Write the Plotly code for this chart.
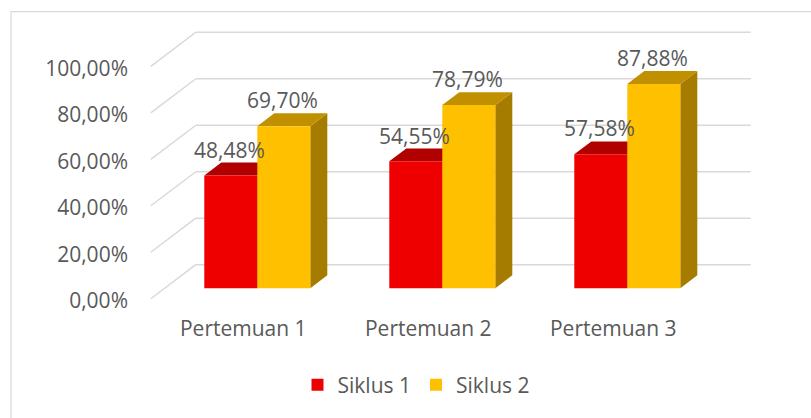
import plotly.graph_objects as go

# ---------------- data ----------------
categories = ["Pertemuan 1", "Pertemuan 2", "Pertemuan 3"]
series_names = ["Siklus 1", "Siklus 2"]
siklus1 = [48.48, 54.55, 57.58]
siklus2 = [69.70, 78.79, 87.88]
y_ticks = [0, 20, 40, 60, 80, 100]
y_tick_labels = ["0,00%", "20,00%", "40,00%", "60,00%", "80,00%", "100,00%"]

# ---------------- styling / geometry ----------------
W, H = 811, 418
L, R, T, B = 145, 770, 20, 305          # plot area in pixels
X0PX, SX = 257.3, 185.0                 # pixel of x=0, px per category
Y0PX, SY = 291.0, 2.349                 # pixel of y=0, px per percent
xr = [(L - X0PX) / SX, (R - X0PX) / SX]
yr = [(Y0PX - B) / SY, (Y0PX - T) / SY]

def dxu(px):
    return px / SX

def dyu(px):
    return px / SY

WALL_DX, WALL_DY = dxu(31), dyu(23.7)     # back wall offset from bar front plane
EDGE_DX, EDGE_DY = dxu(-14), dyu(-10.7)   # front floor edge offset
BAR_DX, BAR_DY = dxu(17), dyu(13)         # bar depth
BARW = 53 / SX
YLAB_SHIFT = dyu(-2)

FONT = "Open Sans"
FS = 21
TXT = "#595959"
GRID = "#D9D9D9"
front_cols = ["#EE0000", "#FFC000"]
top_cols = ["#B00000", "#C09000"]
side_cols = ["#8A0000", "#A67C00"]
offsets = [-BARW, 0.0]

def fmt(v):
    return f"{v:.2f}".replace(".", ",") + "%"

def px2paper_x(px):
    return (px - L) / (R - L)

def px2paper_y(py):
    return (B - py) / (B - T)

fig = go.Figure()
idx = list(range(len(categories)))
series_vals = [siklus1, siklus2]

for s, vals in enumerate(series_vals):
    fig.add_trace(go.Bar(
        x=idx, y=vals, name=series_names[s], width=BARW, offset=offsets[s],
        marker=dict(color=front_cols[s], line=dict(width=0)),
        hoverinfo="skip",
    ))

shapes = []
n = len(categories)
for t in y_ticks:
    shapes.append(dict(type="line", xref="x", yref="y", layer="below",
                       x0=-0.5 + EDGE_DX, y0=t + EDGE_DY,
                       x1=-0.5 + WALL_DX, y1=t + WALL_DY,
                       line=dict(color=GRID, width=1.5)))
    shapes.append(dict(type="line", xref="x", yref="y", layer="below",
                       x0=-0.5 + WALL_DX, y0=t + WALL_DY,
                       x1=n - 0.5 + WALL_DX, y1=t + WALL_DY,
                       line=dict(color=GRID, width=1.5)))

for s, vals in enumerate(series_vals):
    for i, v in enumerate(vals):
        x0 = i + offsets[s]
        x1 = x0 + BARW
        top = (f"M{x0},{v} L{x1},{v} L{x1 + BAR_DX},{v + BAR_DY} "
               f"L{x0 + BAR_DX},{v + BAR_DY} Z")
        side = (f"M{x1},0 L{x1 + BAR_DX},{BAR_DY} L{x1 + BAR_DX},{v + BAR_DY} "
                f"L{x1},{v} Z")
        shapes.append(dict(type="path", path=side, xref="x", yref="y", layer="below",
                           fillcolor=side_cols[s], line=dict(width=0)))
        shapes.append(dict(type="path", path=top, xref="x", yref="y", layer="below",
                           fillcolor=top_cols[s], line=dict(width=0)))

shapes.append(dict(type="rect", xref="paper", yref="paper",
                   x0=px2paper_x(11), x1=px2paper_x(830),
                   y0=px2paper_y(430), y1=px2paper_y(11.5),
                   line=dict(color=GRID, width=1.2), fillcolor="rgba(0,0,0,0)"))

annotations = []
for s, vals in enumerate(series_vals):
    for i, v in enumerate(vals):
        annotations.append(dict(
            x=i + offsets[s] + BARW / 2, y=v + BAR_DY, xref="x", yref="y",
            text=fmt(v), showarrow=False, yanchor="middle", yshift=13, xshift=-1,
            font=dict(family=FONT, size=FS, color=TXT)))

fig.update_layout(
    width=W, height=H,
    margin=dict(l=L, r=W - R, t=T, b=H - B, pad=0),
    paper_bgcolor="white", plot_bgcolor="white",
    barmode="overlay",
    shapes=shapes, annotations=annotations,
    font=dict(family=FONT, size=FS, color=TXT),
    showlegend=True,
    legend=dict(orientation="h", x=px2paper_x(416), xanchor="center",
                y=px2paper_y(389), yanchor="middle",
                font=dict(family=FONT, size=FS, color=TXT),
                itemwidth=30, bgcolor="rgba(0,0,0,0)"),
    xaxis=dict(range=xr, showgrid=False, zeroline=False, showline=False,
               tickvals=[i + EDGE_DX for i in idx], ticktext=categories,
               ticks="", ticklabelstandoff=12, fixedrange=True),
    yaxis=dict(range=yr, showgrid=False, zeroline=False, showline=False,
               tickvals=[t + EDGE_DY + YLAB_SHIFT for t in y_ticks], ticktext=y_tick_labels,
               ticks="", ticklabelstandoff=16, fixedrange=True),
)

fig.write_html("out.html", config={"displayModeBar": False},
               post_script="document.body.style.margin='0';")
